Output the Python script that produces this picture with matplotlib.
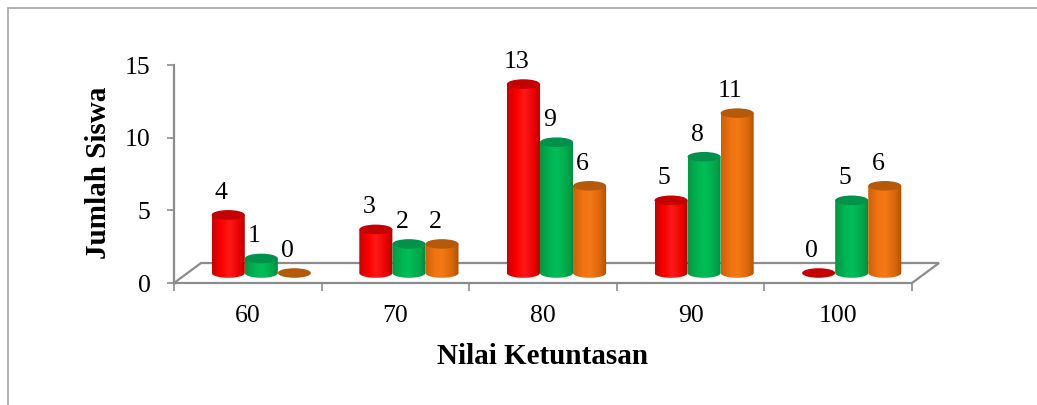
import numpy as np
import matplotlib

matplotlib.use('Agg')
import matplotlib.pyplot as plt
from matplotlib.patches import Ellipse, PathPatch, Rectangle
from matplotlib.path import Path
from matplotlib.colors import LinearSegmentedColormap

plt.rcParams['font.family'] = ['Liberation Serif', 'DejaVu Serif']

# data
categories = ['60', '70', '80', '90', '100']
red_vals = [4, 3, 13, 5, 0]
green_vals = [1, 2, 9, 8, 5]
orange_vals = [0, 2, 6, 11, 6]

x_label = 'Nilai Ketuntasan'
y_label = 'Jumlah Siswa'
y_ticks = [0, 5, 10, 15]

# (body gradient stops, top colour)
styles = [
    (['#c80000', '#ff0000', '#ff1a1a', '#e80000', '#b00000'], '#c40000'),
    (['#009944', '#00b552', '#00be58', '#00a64a', '#008a3c'], '#00924a'),
    (['#d06008', '#f07412', '#f47a16', '#d86408', '#a85004'], '#b45a0a'),
]

fig = plt.figure(figsize=(10.37, 4.05), dpi=100)
ax = fig.add_axes([174 / 1037, 122 / 405, 738 / 1037, 218 / 405])

# outer chart border
fig.patches.append(Rectangle((8 / 1037, -0.05), 1.2, 1 - 7.5 / 405 + 0.05,
                             transform=fig.transFigure, fill=False,
                             edgecolor='#a6a6a6', lw=1.2))

depth_x = 0.183
depth_y = 1.376
bar_w = 0.224
ry = 0.33
base = depth_y / 2
shift = depth_x / 2

# floor back edges
floor_c = '#8c8c8c'
ax.plot([-0.5, -0.5 + depth_x, 4.5 + depth_x, 4.5],
        [0, depth_y, depth_y, 0], color=floor_c, lw=1.6,
        clip_on=False, zorder=1, solid_joinstyle='miter')

grad = np.linspace(0, 1, 256)[None, :]
z = 3
for gi in range(len(categories)):
    for si, vals in enumerate([red_vals, green_vals, orange_vals]):
        v = vals[gi]
        stops, top_c = styles[si]
        xc = gi + (si - 1) * bar_w + shift
        x0 = xc - bar_w / 2
        top = base + v
        if v > 0:
            t = np.linspace(np.pi, 2 * np.pi, 40)
            pts = np.column_stack([xc + bar_w / 2 * np.cos(t), base + ry * np.sin(t)])
            pts = np.vstack([pts, [[x0 + bar_w, top], [x0, top], pts[0]]])
            clip = PathPatch(Path(pts, closed=True), transform=ax.transData,
                             facecolor='none', edgecolor='none')
            ax.add_patch(clip)
            cmap = LinearSegmentedColormap.from_list('c', list(zip([0, 0.3, 0.5, 0.82, 1], stops)))
            im = ax.imshow(grad, extent=[x0, x0 + bar_w, base - ry, top],
                           aspect='auto', cmap=cmap, zorder=z, interpolation='bilinear')
            im.set_clip_path(clip)
        ax.add_patch(Ellipse((xc, top), bar_w, 2 * ry, facecolor=top_c,
                             edgecolor='none', zorder=z + 0.5))
        ax.annotate(str(v), (xc, top), xytext=(-5, 16), textcoords='offset points',
                    ha='center', va='center', fontsize=18.5, zorder=10)
        z += 1

ax.set_xlim(-0.5, 4.5)
ax.set_ylim(0, 15)

for side in ['top', 'right']:
    ax.spines[side].set_visible(False)
for side in ['left', 'bottom']:
    ax.spines[side].set_color(floor_c)
    ax.spines[side].set_linewidth(1.6)

ax.set_yticks(y_ticks)
ax.tick_params(axis='y', direction='out', length=5, width=1.2, color=floor_c,
               labelsize=18.5, pad=12)
ax.set_xticks(np.arange(-0.5, 5, 1))
ax.set_xticklabels([])
ax.set_xticks(np.arange(len(categories)), minor=True)
ax.set_xticklabels(categories, minor=True)
ax.tick_params(axis='x', which='major', direction='out', length=6, width=1.2, color=floor_c)
ax.tick_params(axis='x', which='minor', length=0, labelsize=18.5, pad=16)

fig.text(99 / 1037, 1 - 172.5 / 405, y_label, rotation=90, ha='center', va='center',
         fontsize=21, fontweight='bold')
fig.text(543 / 1037, 1 - 357 / 405, x_label, ha='center', va='center',
         fontsize=21, fontweight='bold')

fig.savefig('out.png', dpi=100)
